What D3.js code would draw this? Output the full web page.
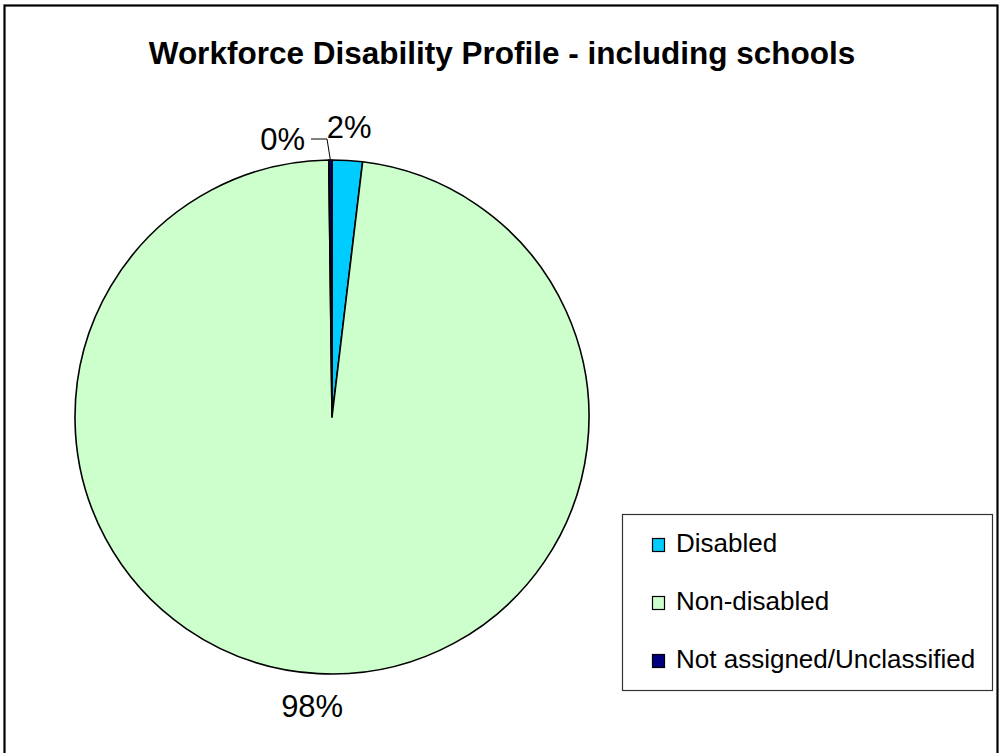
<!DOCTYPE html>
<html>
<head>
<meta charset="utf-8">
<script src="https://cdn.jsdelivr.net/npm/d3@7"></script>
<style>
  html, body { margin: 0; padding: 0; background: #fff; }
  svg { display: block; }
  text { font-family: Arial, "Liberation Sans", Helvetica, sans-serif; fill: #000; }
</style>
</head>
<body>
<svg id="chart" width="1001" height="753"></svg>
<script>
// Share of the workforce by disability status (percent)
const categories = ["Disabled", "Non-disabled", "Not assigned/Unclassified"];
const values = [1.9, 97.9, 0.2];
const colors = ["#00CCFF", "#CCFFCC", "#000080"];
const chartTitle = "Workforce Disability Profile - including schools";

const svg = d3.select("#chart");

// outer chart frame
svg.append("rect")
  .attr("x", 4.5).attr("y", 5.5)
  .attr("width", 993).attr("height", 800)
  .attr("fill", "#fff").attr("stroke", "#000").attr("stroke-width", 2.2);

// title
svg.append("text")
  .attr("x", 502).attr("y", 64)
  .attr("text-anchor", "middle")
  .attr("font-size", 31.5).attr("font-weight", "bold")
  .text(chartTitle);

// pie
const cx = 332, cy = 417, R = 257;
const total = d3.sum(values);
const pie = d3.pie().sort(null).value(d => d.value)
  .startAngle(0).endAngle(2 * Math.PI);
const data = categories.map((c, i) => ({ name: c, value: values[i], color: colors[i] }));
const arcs = pie(data);
const arc = d3.arc().innerRadius(0).outerRadius(R);

const g = svg.append("g").attr("transform", `translate(${cx},${cy})`);
g.selectAll("path.slice")
  .data(arcs)
  .join("path")
  .attr("class", "slice")
  .attr("d", arc)
  .attr("fill", d => d.data.color)
  .attr("stroke", "#000")
  .attr("stroke-width", 1.6)
  .attr("stroke-linejoin", "round");

// percentage labels
const fmt = d3.format(".0%");
const labelFont = 31;
const pt = (a, r) => [Math.sin(a) * r, -Math.cos(a) * r];

arcs.forEach(d => {
  const mid = (d.startAngle + d.endAngle) / 2;
  const txt = fmt(d.data.value / total);
  if (d.data.name === "Disabled") {
    const [x, y] = pt(mid, R + 22);
    g.append("text").attr("x", x - 22).attr("y", y - 1)
      .attr("text-anchor", "start").attr("font-size", labelFont).text(txt);
  } else if (d.data.name === "Non-disabled") {
    const [x, y] = pt(mid, R + 40);
    g.append("text").attr("x", x - 4).attr("y", y + 3)
      .attr("text-anchor", "middle").attr("font-size", labelFont).text(txt);
  } else {
    // small slice: label off to the left with a leader line
    const [ex, ey] = pt(mid, R);
    const lx = -21, ly = -278;
    g.append("path")
      .attr("d", `M${lx},${ly}H${-5}L${ex},${ey}`)
      .attr("fill", "none").attr("stroke", "#000").attr("stroke-width", 1);
    g.append("text").attr("x", lx - 6).attr("y", ly + 11)
      .attr("text-anchor", "end").attr("font-size", labelFont).text(txt);
  }
});

// legend
const lg = svg.append("g");
lg.append("rect")
  .attr("x", 622.5).attr("y", 514.5)
  .attr("width", 370).attr("height", 176)
  .attr("fill", "#fff").attr("stroke", "#333").attr("stroke-width", 1.2);

const rowY = d3.scalePoint().domain(categories).range([552, 668]);
const rows = lg.selectAll("g.item").data(data).join("g").attr("class", "item");
rows.append("rect")
  .attr("x", 652.5).attr("y", d => rowY(d.name) - 13.5)
  .attr("width", 12).attr("height", 13)
  .attr("fill", d => d.color).attr("stroke", "#000").attr("stroke-width", 1.2);
rows.append("text")
  .attr("x", 676).attr("y", d => rowY(d.name))
  .attr("font-size", 26)
  .text(d => d.name);
</script>
</body>
</html>
